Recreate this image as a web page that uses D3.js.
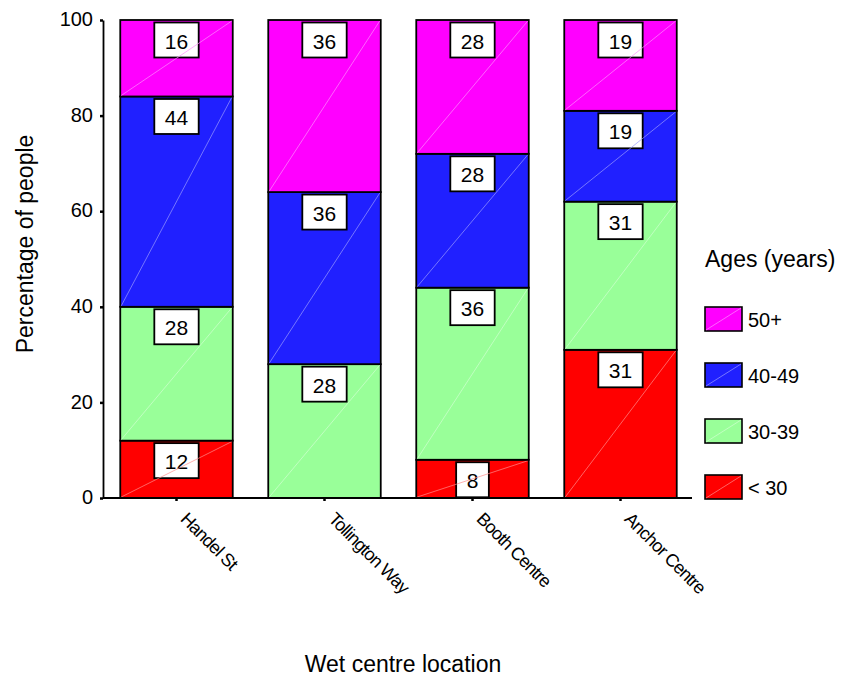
<!DOCTYPE html>
<html>
<head>
<meta charset="utf-8">
<script src="https://cdn.jsdelivr.net/npm/d3@7"></script>
<style>
  html, body { margin: 0; padding: 0; background: #fff; }
  svg { display: block; font-family: "Liberation Sans", Arial, sans-serif; }
</style>
</head>
<body>
<svg id="chart" width="842" height="677"></svg>
<script>
// Wet centre locations and the age make-up (percent) of the people at each
const locations = ["Handel St", "Tollington Way", "Booth Centre", "Anchor Centre"];
const ageGroups = ["< 30", "30-39", "40-49", "50+"];
const under30 = [12, 0, 8, 31];
const age30to39 = [28, 28, 36, 31];
const age40to49 = [44, 36, 28, 19];
const age50plus = [16, 36, 28, 19];
const yTicks = [0, 20, 40, 60, 80, 100];
const groupColors = ["#ff0000", "#99ff99", "#2020ff", "#ff00ff"];

const seriesValues = [under30, age30to39, age40to49, age50plus];
const rows = locations.map((loc, i) => {
  const r = { location: loc };
  ageGroups.forEach((g, k) => { r[g] = seriesValues[k][i]; });
  return r;
});

const svg = d3.select("#chart");
const x = d3.scaleBand().domain(locations).range([102.5, 694.5]).paddingInner(0.24).paddingOuter(0.12);
const y = d3.scaleLinear().domain([0, 100]).range([498, 20]);
const color = d3.scaleOrdinal().domain(ageGroups).range(groupColors);
const tint = c => d3.interpolateRgb(c, "#ffffff")(0.55);

const stacked = d3.stack().keys(ageGroups)(rows);

// stacked segments
const layers = svg.append("g").selectAll("g").data(stacked).join("g");
const segs = layers.selectAll("g.seg")
  .data(s => s.map(d => ({ key: s.key, lo: d[0], hi: d[1], loc: d.data.location, val: d.data[s.key] })))
  .join("g").attr("class", "seg")
  .filter(d => d.val > 0);

segs.append("rect")
  .attr("x", d => x(d.loc))
  .attr("y", d => y(d.hi))
  .attr("width", x.bandwidth())
  .attr("height", d => y(d.lo) - y(d.hi))
  .attr("fill", d => color(d.key))
  .attr("stroke", "#000")
  .attr("stroke-width", 1.8);

// value boxes at the top of each segment
segs.append("g").each(function(d) {
  const g = d3.select(this);
  const cx = x(d.loc) + x.bandwidth() / 2;
  const top = y(d.hi) + 2.5;
  const h = Math.min(35, y(d.lo) - top);
  const txt = g.append("text")
    .attr("x", cx)
    .attr("y", top + h / 2 + 1)
    .attr("text-anchor", "middle")
    .attr("dominant-baseline", "central")
    .attr("font-size", 21)
    .attr("fill", "#000")
    .text(d3.format("d")(d.val));
  const w = txt.node().getComputedTextLength() + 21;
  g.insert("rect", "text")
    .attr("x", cx - w / 2)
    .attr("y", top)
    .attr("width", w)
    .attr("height", h)
    .attr("fill", "#fff")
    .attr("stroke", "#000")
    .attr("stroke-width", 1.8);
});

// faint diagonal shading line across each segment
segs.append("line")
  .attr("x1", d => x(d.loc) + 1)
  .attr("y1", d => y(d.lo) - 1)
  .attr("x2", d => x(d.loc) + x.bandwidth() - 1)
  .attr("y2", d => y(d.hi) + 1)
  .attr("stroke", d => tint(color(d.key)))
  .attr("stroke-width", 0.7);

// y axis
const yAxis = svg.append("g")
  .attr("transform", "translate(103,0)")
  .call(d3.axisLeft(y).tickValues(yTicks).tickSize(3).tickSizeOuter(0).tickPadding(7));
yAxis.select(".domain").attr("stroke", "#000").attr("stroke-width", 1.8);
yAxis.selectAll(".tick line").attr("stroke", "#000").attr("stroke-width", 2.5);
yAxis.selectAll(".tick text")
  .attr("font-size", 20).attr("fill", "#000")
  .attr("font-family", "Liberation Sans, Arial, sans-serif")
  .attr("dy", "0.28em");

// x axis
const xAxis = svg.append("g")
  .attr("transform", "translate(0,498)")
  .call(d3.axisBottom(x).tickSize(3).tickSizeOuter(0).tickFormat(""));
xAxis.select(".domain").attr("d", "M103,0H692").attr("stroke", "#000").attr("stroke-width", 1.8);
xAxis.selectAll(".tick line").attr("stroke", "#000").attr("stroke-width", 2.5);

// slanted category labels
svg.append("g").selectAll("text")
  .data(locations)
  .join("text")
  .attr("transform", d => `translate(${x(d) + x.bandwidth() / 2 + 12},${511}) rotate(45)`)
  .attr("font-size", 18)
  .attr("letter-spacing", -0.8)
  .attr("dominant-baseline", "hanging")
  .attr("fill", "#000")
  .text(d => d);

// axis titles
svg.append("text")
  .attr("transform", "translate(33,244) rotate(-90)")
  .attr("text-anchor", "middle")
  .attr("font-size", 23)
  .attr("fill", "#000")
  .text("Percentage of people");

svg.append("text")
  .attr("x", 403)
  .attr("y", 672)
  .attr("text-anchor", "middle")
  .attr("font-size", 23)
  .attr("fill", "#000")
  .text("Wet centre location");

// legend
const legend = svg.append("g");
legend.append("text")
  .attr("x", 705)
  .attr("y", 267)
  .attr("font-size", 23)
  .attr("fill", "#000")
  .text("Ages (years)");

const legendOrder = ageGroups.slice().reverse();
const items = legend.selectAll("g.item")
  .data(legendOrder)
  .join("g").attr("class", "item")
  .attr("transform", (d, i) => `translate(705,${307 + i * 56})`);
items.append("rect")
  .attr("width", 37).attr("height", 24)
  .attr("fill", d => color(d))
  .attr("stroke", "#000").attr("stroke-width", 1.6);
items.append("line")
  .attr("x1", 1).attr("y1", 23).attr("x2", 36).attr("y2", 1)
  .attr("stroke", d => tint(color(d))).attr("stroke-width", 0.7);
items.append("text")
  .attr("x", 43).attr("y", 13)
  .attr("dominant-baseline", "central")
  .attr("font-size", 20)
  .attr("fill", "#000")
  .text(d => d);
</script>
</body>
</html>
